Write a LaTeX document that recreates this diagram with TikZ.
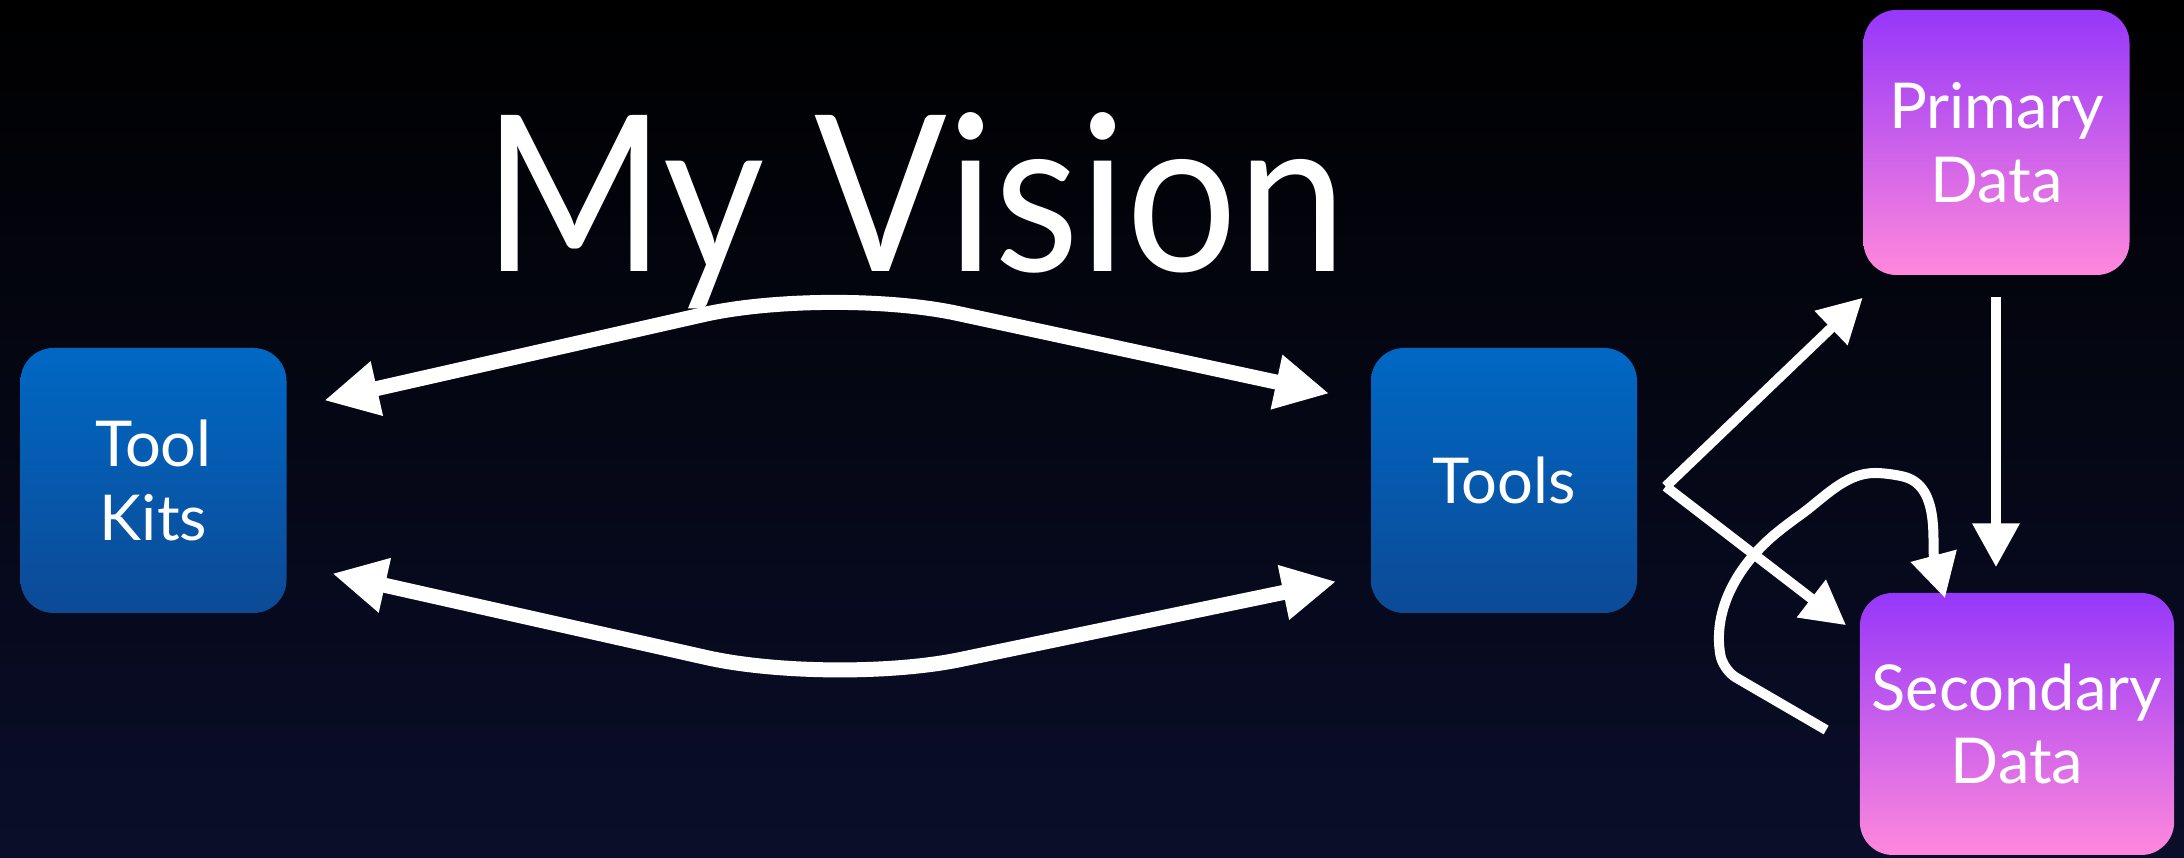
\documentclass[tikz,border=0pt]{standalone}
\usepackage{fontspec}
\setmainfont{Lato}
\usetikzlibrary{arrows.meta,positioning,calc}
\definecolor{bluetop}{RGB}{0,104,196}
\definecolor{bluebot}{RGB}{12,74,150}
\definecolor{purptop}{RGB}{150,55,250}
\definecolor{purpbot}{RGB}{255,136,220}
\definecolor{nightbg}{RGB}{10,14,42}

\begin{document}
\begin{tikzpicture}[
    tool/.style={rounded corners=0.33cm, minimum width=2.66cm, minimum height=2.65cm, align=center, text=white, top color=bluetop, bottom color=bluebot, font=\fontsize{18}{21}\selectfont},
    data/.style={tool, top color=purptop, bottom color=purpbot},
    arr/.style={-{Triangle[length=0.44cm,width=0.45cm]}, line width=0.1cm, white},
    dbl/.style={{Triangle[length=0.54cm,width=0.52cm]}-{Triangle[length=0.54cm,width=0.52cm]}, line width=0.15cm, white},
]
    \shade[top color=black, middle color=black, bottom color=nightbg] (0,0) rectangle (21.84,8.58);

    \node[text=white, font=\fontsize{62}{70}\selectfont, anchor=base] (title) at (9.15, 5.86) {\scalebox{0.9}[1]{My Vision}};

    \node[tool] (kits) at (1.535, 3.775) {Tool\\Kits};
    \node[tool] (tools) at (15.04, 3.775) {Tools};
    \node[data] (prim) at (19.965, 7.155) {Primary\\Data};
    \node[data, minimum width=3.06cm, minimum height=2.62cm] (sec) at (20.17, 1.34) {Secondary\\Data};

    \coordinate (peak) at (8.30, 5.72);
    \coordinate (dip) at (8.33, 1.72);
    \coordinate (fork) at ([shift={(0.28,-0.06)}]tools.east);

    \draw[dbl, rounded corners=1.3cm] ([shift={(0.37,0.80)}]kits.east) -- (peak) -- ([shift={(-0.41,0.87)}]tools.west);
    \draw[dbl, rounded corners=1.3cm] ([shift={(0.45,-0.93)}]kits.east) -- (dip) -- ([shift={(-0.34,-1.01)}]tools.west);

    \draw[arr] (fork) -- ([yshift=-0.22cm]prim.south west);
    \draw[arr] (fork) -- ([shift={(-0.13,-0.33)}]sec.north west);
    \draw[arr] ([shift={(-0.005,-0.21)}]prim.south) -- ($(prim.south |- sec.north)+(-0.005,0.25)$);

    % loop back into the secondary data
    \draw[arr, rounded corners=0.15cm] ([shift={(-0.33,-0.06)}]sec.west) -- (17.23,1.88)
        to[out=100,in=220] (17.86,3.33) to[out=35,in=180] (18.90,3.85) to[out=-15,in=105] ([shift={(-0.72,-0.06)}]sec.north);
\end{tikzpicture}
\end{document}
